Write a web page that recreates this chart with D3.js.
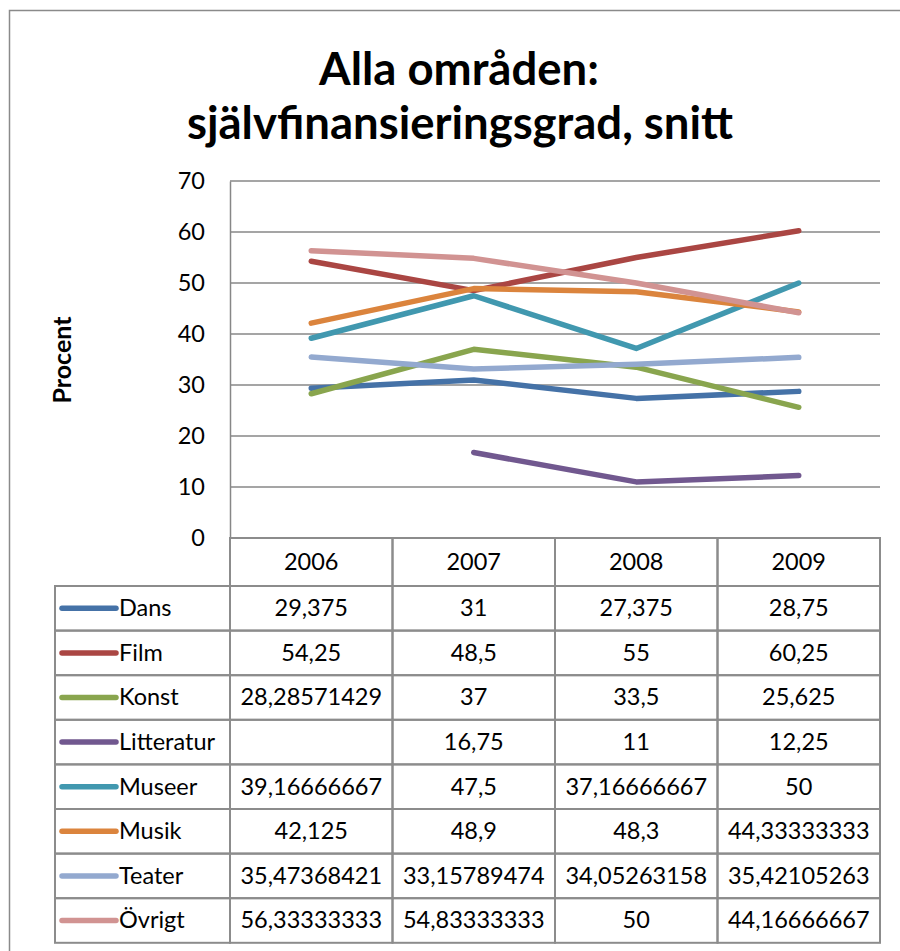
<!DOCTYPE html>
<html>
<head>
<meta charset="utf-8">
<script src="https://cdn.jsdelivr.net/npm/d3@7"></script>
<style>
  body { margin: 0; background: #fff; }
  svg { display: block; font-family: Lato, "Open Sans", sans-serif; }
</style>
</head>
<body>
<div id="chart"></div>
<script>
// years along the x axis
var years = ["2006", "2007", "2008", "2009"];

// one series per area, null where there is no value
var series = ["Dans", "Film", "Konst", "Litteratur", "Museer", "Musik", "Teater", "Övrigt"];
var dans = [29.375, 31, 27.375, 28.75];
var film = [54.25, 48.5, 55, 60.25];
var konst = [28.28571429, 37, 33.5, 25.625];
var litteratur = [null, 16.75, 11, 12.25];
var museer = [39.16666667, 47.5, 37.16666667, 50];
var musik = [42.125, 48.9, 48.3, 44.33333333];
var teater = [35.47368421, 33.15789474, 34.05263158, 35.42105263];
var ovrigt = [56.33333333, 54.83333333, 50, 44.16666667];

var yTicks = [0, 10, 20, 30, 40, 50, 60, 70];

var colors = ["#4572a7", "#aa4643", "#89a54e", "#71588f", "#4198af", "#db843d", "#93a9cf", "#d19392"];

var values = [dans, film, konst, litteratur, museer, musik, teater, ovrigt];
var rows = series.map(function (name, i) {
    return { name: name, values: values[i], color: colors[i] };
});

var width = 900, height = 951;
var svg = d3.select("#chart").append("svg")
    .attr("width", width)
    .attr("height", height);

// chart frame
svg.append("rect")
    .attr("x", 9.5).attr("y", 10.5)
    .attr("width", 1000).attr("height", 1000)
    .attr("fill", "none")
    .attr("stroke", "#8a8a8a")
    .attr("stroke-width", 1.5);

// title
var title = svg.append("text")
    .attr("text-anchor", "middle")
    .attr("font-weight", "bold")
    .attr("font-size", 45.5)
    .attr("fill", "#000");
title.append("tspan").attr("x", 459).attr("y", 85).text("Alla områden:");
title.append("tspan").attr("x", 460).attr("y", 139).text("självfinansieringsgrad, snitt");

// scales
var plotLeft = 230, plotRight = 880, plotTop = 181, plotBottom = 538;
var x = d3.scaleBand().domain(years).range([plotLeft, plotRight]);
var y = d3.scaleLinear().domain([0, 70]).range([plotBottom, plotTop]);

// gridlines
svg.append("g").selectAll("line")
    .data(yTicks.filter(function (d) { return d > 0; }))
    .enter().append("line")
    .attr("x1", plotLeft).attr("x2", plotRight)
    .attr("y1", function (d) { return y(d); })
    .attr("y2", function (d) { return y(d); })
    .attr("stroke", "#878787")
    .attr("stroke-width", 1.5);

// y axis
var yAxis = svg.append("g")
    .attr("transform", "translate(" + plotLeft + ",0)")
    .call(d3.axisLeft(y).tickValues(yTicks).tickSize(0).tickPadding(25));
yAxis.select(".domain").attr("stroke", "#878787").attr("stroke-width", 1.5);
yAxis.selectAll("text")
    .attr("font-family", "Lato, sans-serif")
    .attr("font-size", 23.5)
    .attr("fill", "#000");

svg.append("text")
    .attr("transform", "translate(71,360) rotate(-90)")
    .attr("text-anchor", "middle")
    .attr("font-weight", "bold")
    .attr("font-size", 25)
    .text("Procent");

// lines
var line = d3.line()
    .defined(function (d) { return d != null; })
    .x(function (d, i) { return x(years[i]) + x.bandwidth() / 2; })
    .y(function (d) { return y(d); });

svg.append("g").selectAll("path")
    .data(rows)
    .enter().append("path")
    .attr("d", function (d) { return line(d.values); })
    .attr("fill", "none")
    .attr("stroke", function (d) { return d.color; })
    .attr("stroke-width", 5.5)
    .attr("stroke-linecap", "round")
    .attr("stroke-linejoin", "round");

// data table
var headTop = plotBottom, headH = 48;
var rowH = 44.6;
var legendLeft = 55;
var rowY = d3.scaleBand().domain(series).range([headTop + headH, headTop + headH + rowH * series.length]);
var gridColor = "#8c8c8c";

var table = svg.append("g");

// header cells
table.selectAll(".head")
    .data(years)
    .enter().append("rect")
    .attr("x", function (d) { return x(d); })
    .attr("y", headTop)
    .attr("width", x.bandwidth())
    .attr("height", headH)
    .attr("fill", "none")
    .attr("stroke", gridColor)
    .attr("stroke-width", 2);

table.selectAll(".headText")
    .data(years)
    .enter().append("text")
    .attr("x", function (d) { return x(d) + x.bandwidth() / 2; })
    .attr("y", headTop + headH / 2 + 8)
    .attr("text-anchor", "middle")
    .attr("font-size", 23.5)
    .text(function (d) { return d; });

var rowG = table.selectAll(".row")
    .data(rows)
    .enter().append("g")
    .attr("transform", function (d) { return "translate(0," + rowY(d.name) + ")"; });

rowG.append("rect")
    .attr("x", legendLeft)
    .attr("width", plotLeft - legendLeft)
    .attr("height", rowH)
    .attr("fill", "none")
    .attr("stroke", gridColor)
    .attr("stroke-width", 2);

rowG.selectAll(".cell")
    .data(years)
    .enter().append("rect")
    .attr("x", function (d) { return x(d); })
    .attr("width", x.bandwidth())
    .attr("height", rowH)
    .attr("fill", "none")
    .attr("stroke", gridColor)
    .attr("stroke-width", 2);

rowG.append("line")
    .attr("x1", 62).attr("x2", 116)
    .attr("y1", rowH / 2).attr("y2", rowH / 2)
    .attr("stroke", function (d) { return d.color; })
    .attr("stroke-width", 5.5)
    .attr("stroke-linecap", "round");

rowG.append("text")
    .attr("x", 119)
    .attr("y", rowH / 2 + 8)
    .attr("font-size", 23.5)
    .text(function (d) { return d.name; });

rowG.selectAll(".val")
    .data(function (d) { return d.values; })
    .enter().append("text")
    .attr("x", function (d, i) { return x(years[i]) + x.bandwidth() / 2; })
    .attr("y", rowH / 2 + 8)
    .attr("text-anchor", "middle")
    .attr("font-size", 23.5)
    .text(function (d) { return d == null ? "" : String(d).replace(".", ","); });
</script>
</body>
</html>
